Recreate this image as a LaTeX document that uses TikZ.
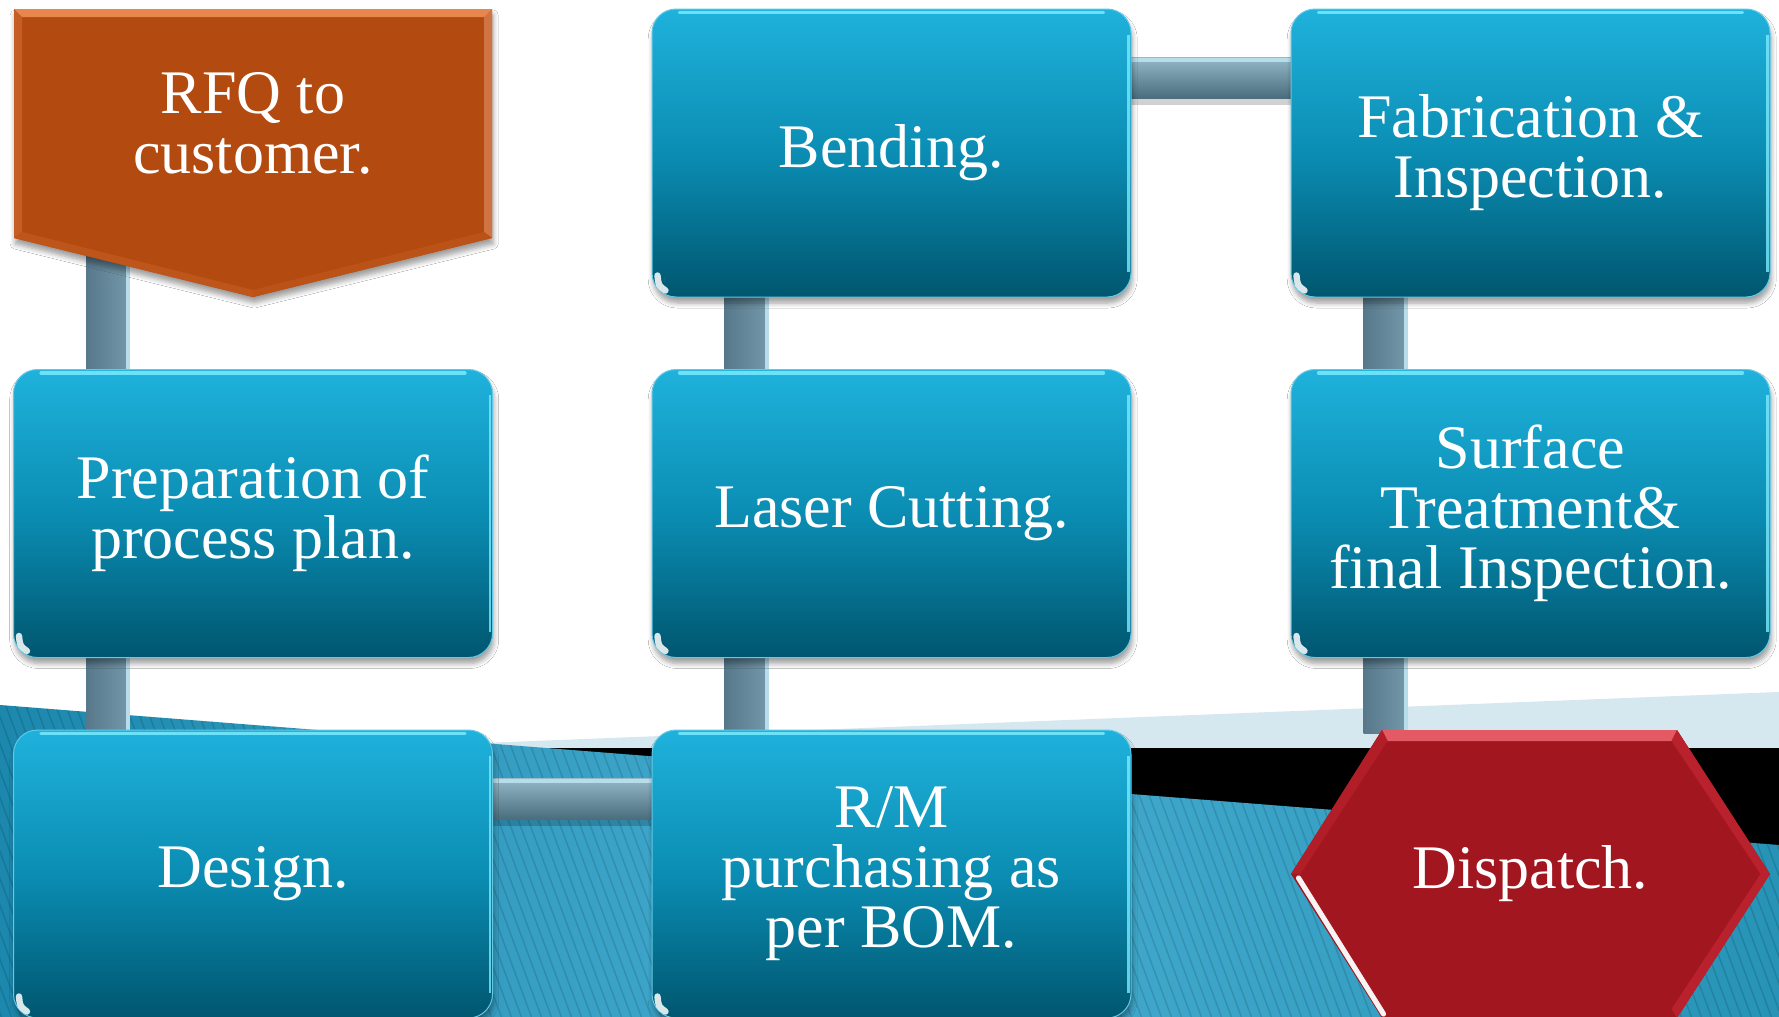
\documentclass[tikz,border=0pt]{standalone}
\usepackage{fontspec}
\setmainfont{Liberation Serif}
\usetikzlibrary{calc,shadows.blur}
\definecolor{boxtop}{HTML}{1FB2DC}
\definecolor{boxmid}{HTML}{0B8DB3}
\definecolor{boxbot}{HTML}{00566F}
\definecolor{boxhi}{HTML}{7AEBFF}
\definecolor{lightband}{HTML}{D5E7EF}
\definecolor{tealL}{HTML}{1C88AD}
\definecolor{tealM}{HTML}{48AED2}
\definecolor{tealR}{HTML}{2793B6}
\definecolor{pipeD}{HTML}{56788A}
\definecolor{pipeL}{HTML}{7295A7}
\definecolor{pipeHT}{HTML}{93B8C8}
\definecolor{pipeHB}{HTML}{4A6C7C}
\definecolor{pipeHi}{HTML}{B8DDEA}
\definecolor{rfqmain}{HTML}{B34A10}
\definecolor{rfqlight}{HTML}{E8874D}
\definecolor{rfqside}{HTML}{C65D22}
\definecolor{dispmain}{HTML}{A1161F}
\definecolor{displight}{HTML}{E45A64}
\definecolor{dispside}{HTML}{B9222C}
\newcommand\bxfont{\fontsize{31}{30}\selectfont}
\pgfdeclarelayer{bg}
\pgfdeclarelayer{pipes}
\pgfdeclarelayer{shapes}
\pgfsetlayers{bg,pipes,shapes,main}
\tikzset{
  softshadow/.style={blur shadow={shadow xshift=0.6pt, shadow yshift=-3pt, shadow opacity=38, shadow blur radius=2.5pt, shadow blur steps=6}},
  box/.style={rounded corners=12pt, minimum width=239.5pt, minimum height=144pt,
    top color=boxtop, bottom color=boxbot, middle color=boxmid,
    draw=boxtop!70!white, line width=0.5pt, text=white, font=\bxfont, align=center,
    inner sep=0pt, softshadow},
  plainbox/.style={minimum width=239.5pt, inner sep=0pt, text=white, font=\bxfont, align=center},
  pipeV/.style={left color=pipeD, right color=pipeL},
  pipeH/.style={top color=pipeHT, bottom color=pipeHB},
  stripe/.style={black, opacity=0.13, line width=0.7pt},
}
\newcommand\vpipe[2]{%
  \shade[pipeV] ($(#1.south west)+(73,-4)$) rectangle ($(#2.north west)+(113,4)$);
  \fill[pipeHi] ($(#1.south west)+(113,-4)$) rectangle ($(#2.north west)+(117,4)$);
}
\newcommand\hpipe[2]{%
  \fill[black, opacity=0.18] ($(#1.north east)+(-4,54)$) rectangle ($(#2.north west)+(4,96)$);
  \shade[pipeH] ($(#1.north east)+(-4,49)$) rectangle ($(#2.north west)+(4,90)$);
  \fill[pipeHi] ($(#1.north east)+(-4,49)$) rectangle ($(#2.north west)+(4,53)$);
}
\begin{document}
\begin{tikzpicture}[x=0.5pt,y=-0.5pt]
\useasboundingbox (0,0) rectangle (1779,1017);

% ---------- nodes ----------
\node[plainbox, minimum height=114.5pt] (rfq) at (253,123.5) {RFQ to\\customer.};
\node[box] (prep)   at (253,513.5)   {Preparation of\\process plan.};
\node[box] (design) at (253,874)     {Design.};
\node[box] (rm)     at (891.5,874)   {R/M\\purchasing as\\per BOM.};
\node[box] (laser)  at (891.5,513.5) {Laser Cutting.};
\node[box] (bend)   at (891.5,153)   {Bending.};
\node[box] (fab)    at (1530.5,153)  {Fabrication \&\\Inspection.};
\node[box] (surf)   at (1530.5,513.5){Surface\\Treatment\&\\final Inspection.};
\node[plainbox, minimum height=144pt] (disp) at (1530.5,874) {Dispatch.};

% box highlights
\foreach \n in {prep,design,rm,laser,bend,fab,surf}{
  \draw[boxhi, line width=1.6pt, opacity=0.85, line cap=round] ($(\n.north west)+(28,4)$) -- ($(\n.north east)+(-28,4)$);
  \draw[boxhi, line width=1.3pt, opacity=0.8] ($(\n.north east)+(-3,26)$) -- ($(\n.south east)+(-3,-26)$);
  \draw[white, line width=3.2pt, line cap=round, opacity=0.85] ($(\n.south west)+(6,-22)$) .. controls ($(\n.south west)+(7,-12)$) .. ($(\n.south west)+(14,-7)$);
}

% ---------- shapes (pentagon, hexagon) ----------
\begin{pgfonlayer}{shapes}
\begin{scope}[shift={(rfq.center)}]
  \fill[rfqmain, softshadow]
     (-239,-114.5) -- (239,-114.5) -- (239,114.5) -- (0,173.5) -- (-239,114.5) -- cycle;
  \fill[rfqside] (-239,-114.5) -- (-231,-106.5) -- (-231,108.5) -- (-239,114.5) -- cycle;
  \fill[rfqside!85!white] (239,-114.5) -- (231,-106.5) -- (231,108.5) -- (239,114.5) -- cycle;
  \fill[rfqlight] (-239,-114.5) -- (239,-114.5) -- (231,-106.5) -- (-231,-106.5) -- cycle;
  \fill[rfqside!60!rfqmain] (-239,114.5) -- (0,173.5) -- (0,166.5) -- (-231,108.5) -- cycle;
  \fill[rfqside!40!rfqmain] (239,114.5) -- (0,173.5) -- (0,166.5) -- (231,108.5) -- cycle;
\end{scope}
\begin{scope}[shift={(disp.center)}]
  \fill[dispmain] (-148.5,-144) -- (146.5,-144) -- (239.5,0) -- (146.5,144) -- (-148.5,144) -- (-239.5,0) -- cycle;
  \fill[displight] (-148.5,-144) -- (146.5,-144) -- (141,-133) -- (-143,-133) -- cycle;
  \fill[dispside] (146.5,-144) -- (239.5,0) -- (230,0) -- (141,-133) -- cycle;
  \fill[dispside] (239.5,0) -- (146.5,144) -- (141,135) -- (230,0) -- cycle;
  \fill[dispside!70!dispmain] (-148.5,-144) -- (-239.5,0) -- (-230,0) -- (-143,-133) -- cycle;
  \draw[white, line width=2.6pt, line cap=round, opacity=0.95] (-232,4) -- (-147,140);
\end{scope}
\end{pgfonlayer}

% ---------- pipes ----------
\begin{pgfonlayer}{pipes}
  \vpipe{rfq}{prep}
  \vpipe{prep}{design}
  \hpipe{design}{rm}
  \vpipe{laser}{rm}
  \vpipe{bend}{laser}
  \hpipe{bend}{fab}
  \vpipe{fab}{surf}
  \vpipe{surf}{disp}
\end{pgfonlayer}

% ---------- background ----------
\begin{pgfonlayer}{bg}
  \fill[white] (0,0) rectangle (1779,1017);
  \fill[lightband] (0,762) -- (1779,692) -- (1779,1017) -- (0,1017) -- cycle;
  \fill[black] (0,748) -- (1779,748) -- (1779,1017) -- (0,1017) -- cycle;
  \shade[left color=tealL, right color=tealR, middle color=tealM]
     (0,705) -- (1779,845) -- (1779,1017) -- (0,1017) -- cycle;
  \begin{scope}
    \clip (0,705) -- (1779,845) -- (1779,1017) -- (0,1017) -- cycle;
    \foreach \i in {-20,...,185} \draw[stripe] (\i*10,690) -- ++(130,350);
  \end{scope}
\end{pgfonlayer}
\end{tikzpicture}
\end{document}
